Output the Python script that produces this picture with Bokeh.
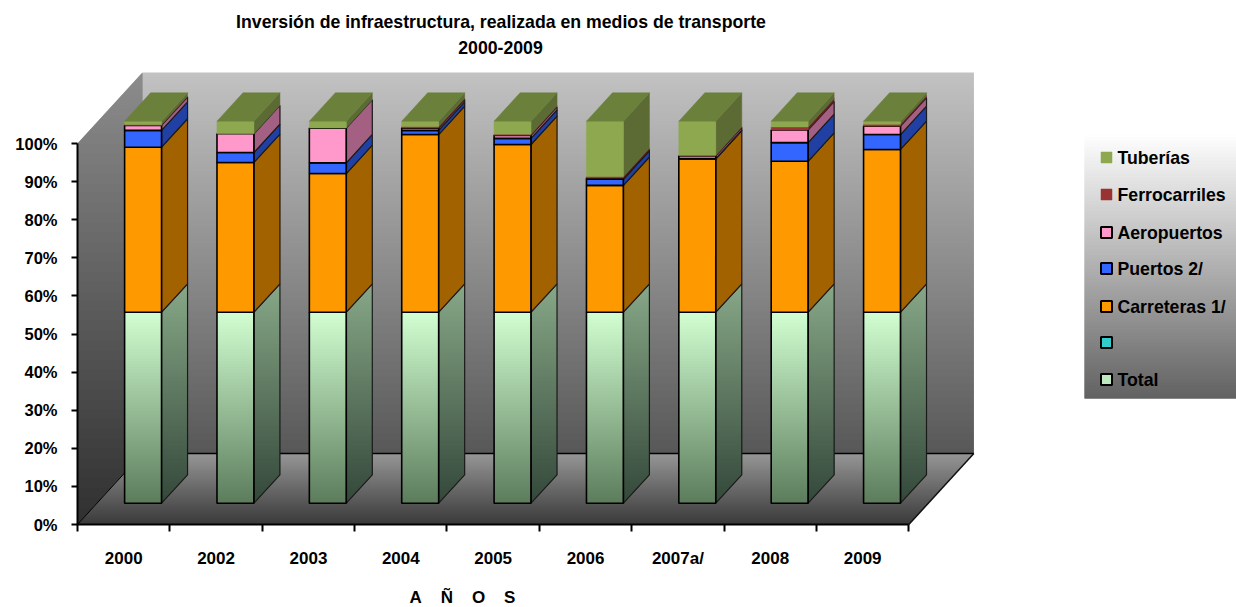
import math
from bokeh.plotting import figure
from bokeh.models import Range1d, FixedTicker, PrintfTickFormatter
from bokeh.core.properties import value
from bokeh.embed import file_html
from bokeh.resources import INLINE

# ---------- data (percent of each stacked column) ----------
years = ["2000", "2002", "2003", "2004", "2005", "2006", "2007a/", "2008", "2009"]
total = [50, 50, 50, 50, 50, 50, 50, 50, 50]
blank = [0, 0, 0, 0, 0, 0, 0, 0, 0]
carreteras = [43.2, 39.2, 36.3, 46.5, 43.9, 33.2, 40.1, 39.5, 42.6]
puertos = [4.4, 2.6, 2.8, 1.1, 1.6, 1.6, 0.1, 4.9, 3.9]
aeropuertos = [1.3, 4.9, 9.1, 0.6, 0.8, 0.3, 0.7, 3.3, 2.2]
ferrocarriles = [0.2, 0.0, 0.0, 0.4, 0.3, 0.4, 0.2, 0.8, 0.5]
tuberias = [0.9, 3.3, 1.8, 1.4, 3.4, 14.5, 8.9, 1.5, 0.8]
y_ticks = list(range(0, 101, 10))
legend_labels = ["Tuberías", "Ferrocarriles", "Aeropuertos", "Puertos 2/", "Carreteras 1/", "", "Total"]
title_lines = ["Inversión de infraestructura, realizada en medios de transporte", "2000-2009"]
axis_title = "A\u00a0\u00a0\u00a0\u00a0Ñ\u00a0\u00a0\u00a0\u00a0O\u00a0\u00a0\u00a0\u00a0S"

# ---------- geometry ----------
W, H = 1236, 607
PX_X0, PX_Y0 = 77.0, 524.0      # page pixel of category 0 / 0 %
PX_CAT, PX_PCT = 92.37, 3.81    # pixels per category / percent
DX, DY = 65 / PX_CAT, 71 / PX_PCT  # full chart depth in data units
FRONT, BACK = 0.30, 0.70        # depth of the column front / back
BAR_L, BAR_R = 0.51, 0.91       # column span within a category
BAR_GAIN = 382 / 381            # the columns are drawn a touch taller than the axis
FONT = value("Liberation Sans")
FS_TITLE = "17.7px"
FS_LEG = "17.7px"
FS_X = "17px"
FS_Y = "16.5px"


def X(px):
    return (px - PX_X0) / PX_CAT


def Y(py):
    return (PX_Y0 - py) / PX_PCT


def PY(y):
    return PX_Y0 - y * PX_PCT


def hexrgb(c):
    return tuple(int(c[i:i + 2], 16) for i in (1, 3, 5))


def mix(a, b, t):
    a, b = hexrgb(a), hexrgb(b)
    return "#%02x%02x%02x" % tuple(round(a[i] + (b[i] - a[i]) * t) for i in range(3))


def clip_band(poly, lo, hi):
    def clip(pts, inside, cross):
        out = []
        for i, p in enumerate(pts):
            q = pts[(i + 1) % len(pts)]
            if inside(p):
                out.append(p)
            if inside(p) != inside(q):
                out.append(cross(p, q))
        return out

    def at(level):
        def f(p, q):
            t = (level - p[1]) / (q[1] - p[1])
            return (p[0] + (q[0] - p[0]) * t, level)
        return f

    r = clip(poly, lambda p: p[1] >= lo, at(lo))
    if r:
        r = clip(r, lambda p: p[1] <= hi, at(hi))
    return r


p = figure(width=W, height=H, output_backend="svg", toolbar_location=None,
           x_range=Range1d(X(0), X(W)), y_range=Range1d(Y(H), Y(0)),
           min_border=0, min_border_left=0, min_border_right=0, min_border_top=0, min_border_bottom=0)
p.grid.visible = False
p.outline_line_color = None
p.background_fill_color = "#ffffff"
p.border_fill_color = "#ffffff"


def gradient(poly, c_top, c_bot):
    """Vertical colour ramp: one-pixel rows, each running one row under the next so nothing shows through."""
    pys = [PY(q[1]) for q in poly]
    top, bot = math.floor(min(pys)), math.ceil(max(pys))
    xs_, ys_, cs = [], [], []
    for row in range(top, bot):
        band = clip_band(poly, Y(row + 2), Y(row))
        if len(band) >= 3:
            xs_.append([b[0] for b in band])
            ys_.append([b[1] for b in band])
            cs.append(mix(c_top, c_bot, (row + .5 - top) / (bot - top)))
    p.patches(xs_, ys_, fill_color=cs, line_color=None)


# ---------- walls and floor ----------
n_cat = len(years)
back_wall = [(DX, 100 + DY), (n_cat + DX, 100 + DY), (n_cat + DX, DY), (DX, DY)]
left_wall = [(DX, 100 + DY), (DX, DY), (0, 0), (0, 100)]
floor = [(DX, DY), (n_cat + DX, DY), (n_cat, 0), (0, 0)]
gradient(back_wall, "#c2c2c2", "#585858")
gradient(left_wall, "#8c8c8c", "#303030")
gradient(floor, "#969696", "#3a3a3a")
p.line([DX, n_cat + DX], [DY, DY], line_color="#000000", line_width=1.5)
p.line([0, DX], [0, DY], line_color="#000000", line_width=1)
p.line([n_cat, n_cat + DX], [0, DY], line_color="#111111", line_width=1.5)

# ---------- stacked 3-D columns ----------
series = [
    (total, None, None, "#000000"),
    (blank, "#33cccc", "#208080", "#000000"),
    (carreteras, "#ff9900", "#a36200", "#000000"),
    (puertos, "#3366ff", "#2041a3", "#000000"),
    (aeropuertos, "#ff99cc", "#a36082", "#000000"),
    (ferrocarriles, "#993333", "#622020", None),
    (tuberias, "#8ea84f", "#5b6b33", None),
]
top_face = "#6b803b"
d_f = (FRONT * DX, FRONT * DY)
d_b = (BACK * DX, BACK * DY)

for i in range(n_cat):
    x_l, x_r = i + BAR_L, i + BAR_R
    base = 0.0
    yf = d_f[1]
    sx = d_b[0] - d_f[0]
    sy = d_b[1] - d_f[1]
    for vals, front_c, side_c, edge in series:
        v = vals[i] * BAR_GAIN
        if v <= 0:
            continue
        y0, y1 = base + yf, base + v + yf
        side = [(x_r, y1), (x_r + sx, y1 + sy), (x_r + sx, y0 + sy), (x_r, y0)]
        front = [(x_l, y1), (x_r, y1), (x_r, y0), (x_l, y0)]
        if front_c is None:
            gradient(front, "#d2ffd2", "#5c7c5c")
            gradient(side, "#88a888", "#34483a")
        else:
            p.patch([q[0] for q in side], [q[1] for q in side], fill_color=side_c,
                    line_color=side_c, line_width=0.5)
            p.patch([q[0] for q in front], [q[1] for q in front], fill_color=front_c,
                    line_color=front_c, line_width=0.5)
        if edge:
            p.patch([q[0] for q in side], [q[1] for q in side], fill_color=None,
                    line_color="#1a1a1a", line_width=1.2)
            p.patch([q[0] for q in front], [q[1] for q in front], fill_color=None,
                    line_color="#000000", line_width=1.6)
        base += v
    yt = base + yf
    p.patch([x_l, x_r, x_r + sx, x_l + sx], [yt, yt, yt + sy, yt + sy],
            fill_color=top_face, line_color=top_face, line_width=0.5)

# ---------- axes ----------
yax = p.yaxis[0]
yax.fixed_location = 0
yax.bounds = (0, 100)
yax.ticker = FixedTicker(ticks=y_ticks)
yax.formatter = PrintfTickFormatter(format="%d%%")
yax.major_tick_out = 6
yax.major_tick_in = 0
yax.minor_tick_line_color = None
yax.major_tick_line_width = 2
yax.axis_line_width = 2
yax.major_label_text_font = "Liberation Sans"
yax.major_label_text_font_style = "bold"
yax.major_label_text_font_size = FS_Y
yax.major_label_text_color = "#000000"
yax.major_label_standoff = 14

xax = p.xaxis[0]
xax.fixed_location = 0
xax.bounds = (0, n_cat)
xax.ticker = FixedTicker(ticks=[i + 0.5 for i in range(n_cat)], minor_ticks=list(range(n_cat + 1)))
xax.major_label_overrides = {i + 0.5: y for i, y in enumerate(years)}
xax.major_tick_line_color = None
xax.major_tick_out = 0
xax.major_tick_in = 0
xax.minor_tick_out = 7
xax.minor_tick_in = 0
xax.minor_tick_line_width = 2
xax.minor_tick_line_color = "#000000"
xax.axis_line_width = 2
xax.major_label_text_font = "Liberation Sans"
xax.major_label_text_font_style = "bold"
xax.major_label_text_font_size = FS_X
xax.major_label_text_color = "#000000"
xax.major_label_standoff = 17

# ---------- titles ----------
p.text([X(500.5)], [Y(21)], text=[title_lines[0]], text_font=FONT, text_font_style="bold",
       text_font_size=FS_TITLE, text_align="center", text_baseline="middle", text_color="#000000")
p.text([X(500)], [Y(47)], text=[title_lines[1]], text_font=FONT, text_font_style="bold",
       text_font_size=FS_TITLE, text_align="center", text_baseline="middle", text_color="#000000")
p.text([X(462)], [Y(597)], text=[axis_title], text_font=FONT, text_font_style="bold",
       text_font_size=FS_X, text_align="center", text_baseline="middle", text_color="#000000")

# ---------- legend ----------
legend_poly = [(X(1084), Y(133)), (X(W), Y(133)), (X(W), Y(398)), (X(1084), Y(398))]
gradient(legend_poly, "#ffffff", "#626262")
legend_swatches = [("#8ea84f", None), ("#993333", None), ("#ff99cc", "#000000"), ("#3366ff", "#000000"),
                   ("#ff9900", "#000000"), ("#33cccc", "#000000"), ("#c0e8c0", "#000000")]
legend_py = [157, 194, 232, 268, 306, 342, 379]
for lab, py, (fc, ec) in zip(legend_labels, legend_py, legend_swatches):
    p.scatter([X(1106)], [Y(py)], marker="square", size=11, fill_color=fc,
              line_color=ec if ec else fc, line_width=2 if ec else 0.5)
    if lab:
        p.text([X(1117)], [Y(py)], text=[lab], text_font=FONT, text_font_style="bold",
               text_font_size=FS_LEG, text_align="left", text_baseline="middle", text_color="#000000")

open("out.html", "w").write(file_html(p, INLINE))
